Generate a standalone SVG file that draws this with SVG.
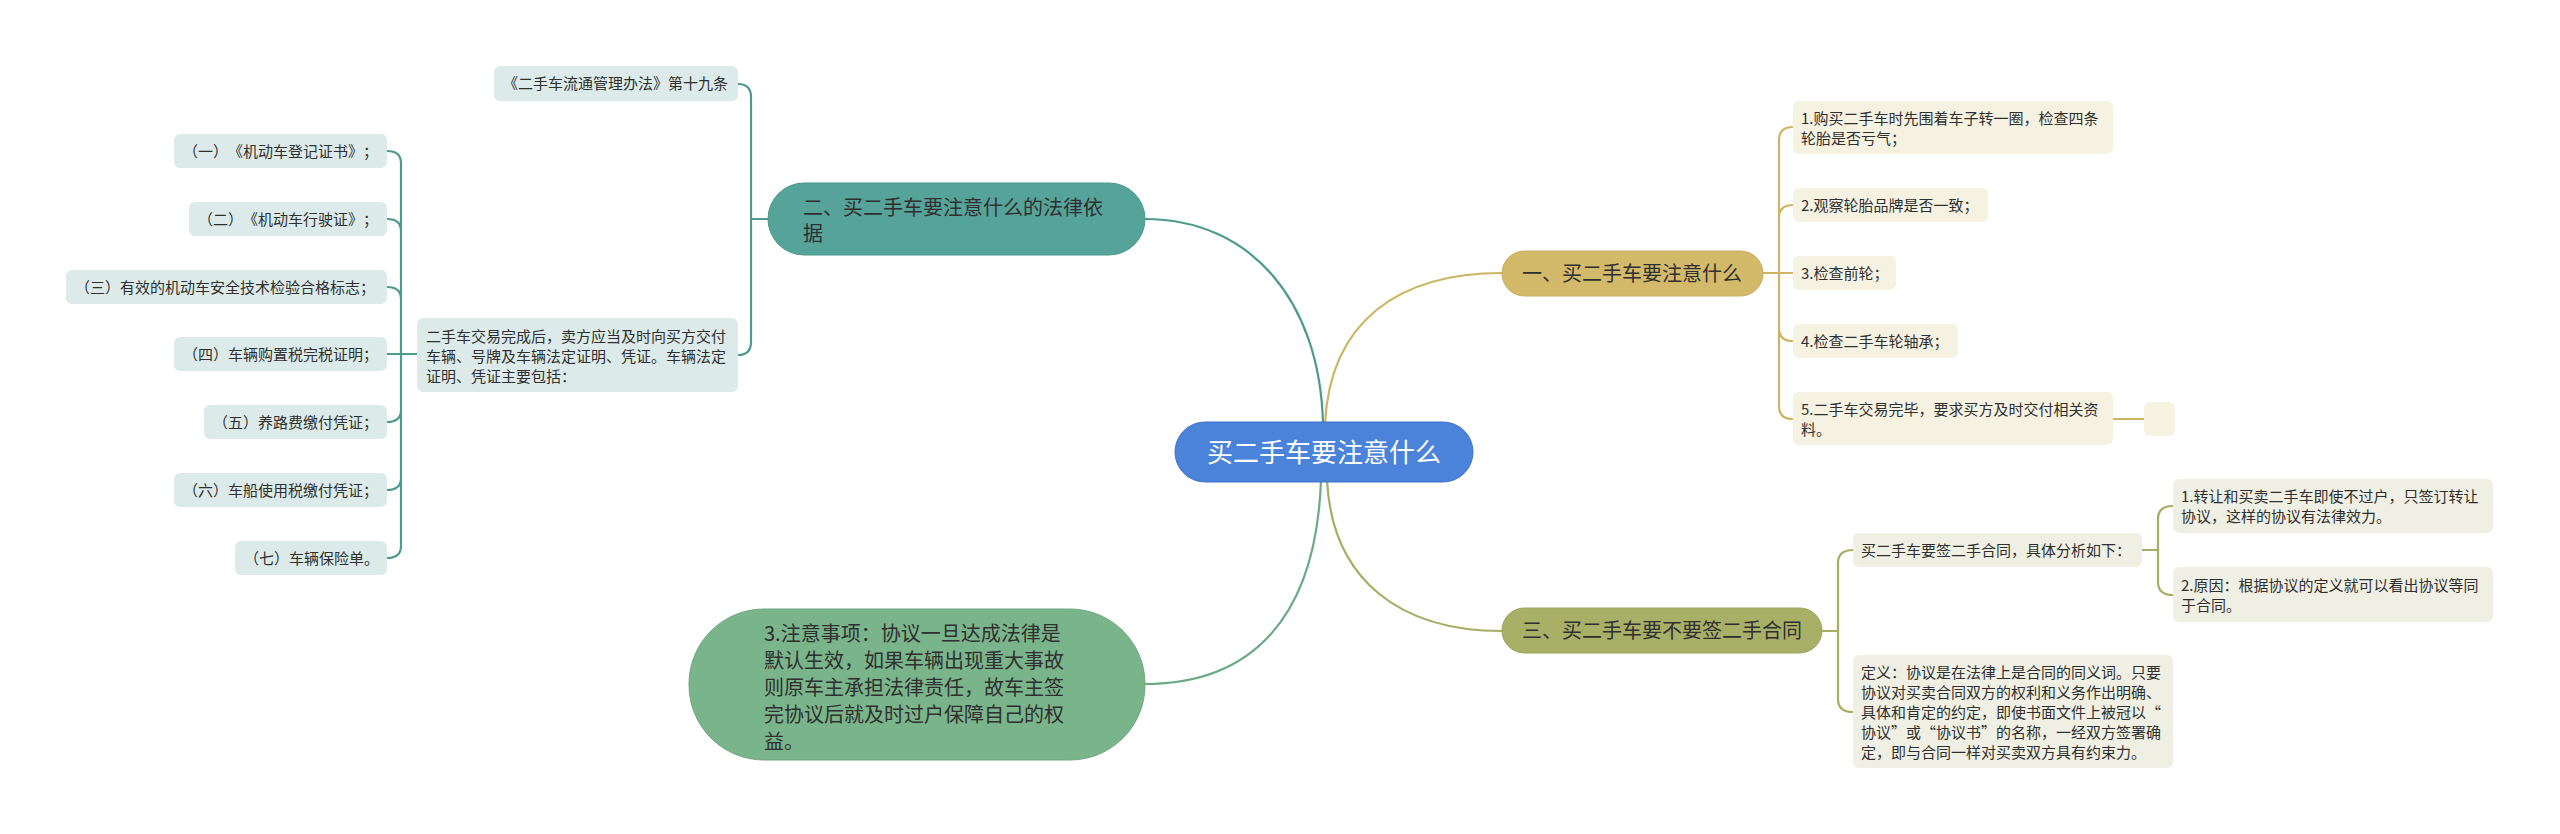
<svg xmlns="http://www.w3.org/2000/svg" width="2560" height="834" viewBox="0 0 2560 834">
<style>
text{font-family:"Noto Sans CJK SC","Noto Sans",sans-serif;fill:#2f2f2f;text-spacing-trim:space-all;font-kerning:none}
.s{font-size:15px}
.m{font-size:20px}
.tl{fill:#DCEBE9}
.gl{fill:#F6F2E2}
.ol{fill:#EFEFE3}
.c{fill:none;stroke-width:2.2;stroke-linecap:round}
.ct{stroke:#4E9A8D}
.cg{stroke:#CDB462}
.co{stroke:#A6AE64}
.cgr{stroke:#6CAA86}
</style>
<rect width="2560" height="834" fill="#ffffff"/>
<g id="connectors">
<path class="c ct" d="M1323 424 C1320 300 1250 219 1145 219"/>
<path class="c cg" d="M1325 424 C1330 320 1400 273 1502 273"/>
<path class="c co" d="M1327 480 C1332 580 1400 631 1502 631"/>
<path class="c cgr" d="M1321 480 C1316 620 1250 684 1145 684"/>
<path class="c ct" d="M768 219 L751 219 M738 84 Q751 84 751 97 L751 342 Q751 355 738 355"/>
<path class="c ct" d="M417 354 L387 354 M387 151 Q401 151 401 163 L401 546 Q401 558 387 558 M387 219 Q401 219 401 231 M387 287 Q401 287 401 299 M387 422 Q401 422 401 410 M387 490 Q401 490 401 478"/>
<path class="c cg" d="M1763 273 L1793 273 M1793 127 Q1779 127 1779 140 L1779 406 Q1779 419 1793 419 M1793 205 Q1779 205 1779 218 M1793 341 Q1779 341 1779 328 M2113 419 L2144 419"/>
<path class="c co" d="M1822 631 L1838 631 M1853 550 Q1838 550 1838 563 L1838 699 Q1838 712 1853 712"/>
<path class="c co" d="M2142 550 L2158 550 M2173 506 Q2158 506 2158 519 L2158 582 Q2158 595 2173 595"/>
</g>
<g id="root">
<rect x="1175" y="422" width="298" height="60" rx="30" fill="#4B82DA" stroke="#3E72C8" stroke-width="1"/>
<text x="1324" y="462" text-anchor="middle" style="font-size:26px;fill:#ffffff">买二手车要注意什么</text>
</g>
<g id="n-legal">
<rect x="768" y="183" width="377" height="72" rx="36" fill="#56A39A" stroke="#4B968C" stroke-width="1"/>
<text class="m" x="803" y="215">二、买二手车要注意什么的法律依</text>
<text class="m" x="803" y="241">据</text>
</g>
<g id="n-law19">
<rect class="tl" x="494" y="66" width="244" height="35" rx="6"/>
<text class="s" x="503" y="89">《二手车流通管理办法》第十九条</text>
</g>
<g id="n-deliver">
<rect class="tl" x="417" y="318" width="321" height="74" rx="6"/>
<text class="s" x="426" y="342">二手车交易完成后，卖方应当及时向买方交付</text>
<text class="s" x="426" y="362">车辆、号牌及车辆法定证明、凭证。车辆法定</text>
<text class="s" x="426" y="382">证明、凭证主要包括：</text>
</g>
<g id="n-l1">
<rect class="tl" x="174" y="134" width="213" height="34" rx="6"/>
<text class="s" x="183" y="157">（一）《机动车登记证书》；</text>
</g>
<g id="n-l2">
<rect class="tl" x="189" y="202" width="198" height="34" rx="6"/>
<text class="s" x="198" y="225">（二）《机动车行驶证》；</text>
</g>
<g id="n-l3">
<rect class="tl" x="66" y="270" width="321" height="34" rx="6"/>
<text class="s" x="75" y="293">（三）有效的机动车安全技术检验合格标志；</text>
</g>
<g id="n-l4">
<rect class="tl" x="174" y="337" width="213" height="34" rx="6"/>
<text class="s" x="183" y="360">（四）车辆购置税完税证明；</text>
</g>
<g id="n-l5">
<rect class="tl" x="204" y="405" width="183" height="34" rx="6"/>
<text class="s" x="213" y="428">（五）养路费缴付凭证；</text>
</g>
<g id="n-l6">
<rect class="tl" x="174" y="473" width="213" height="34" rx="6"/>
<text class="s" x="183" y="496">（六）车船使用税缴付凭证；</text>
</g>
<g id="n-l7">
<rect class="tl" x="235" y="541" width="152" height="34" rx="6"/>
<text class="s" x="244" y="564">（七）车辆保险单。</text>
</g>
<g id="n-what">
<rect x="1502" y="251" width="261" height="45" rx="22.5" fill="#D3BA6A" stroke="#C6AD5C" stroke-width="1"/>
<text class="m" x="1522" y="281">一、买二手车要注意什么</text>
</g>
<g id="n-w1">
<rect class="gl" x="1793" y="101" width="320" height="53" rx="6"/>
<text class="s" x="1801" y="124">1.购买二手车时先围着车子转一圈，检查四条</text>
<text class="s" x="1801" y="144">轮胎是否亏气；</text>
</g>
<g id="n-w2">
<rect class="gl" x="1793" y="188" width="195" height="34" rx="6"/>
<text class="s" x="1801" y="211">2.观察轮胎品牌是否一致；</text>
</g>
<g id="n-w3">
<rect class="gl" x="1793" y="256" width="103" height="34" rx="6"/>
<text class="s" x="1801" y="279">3.检查前轮；</text>
</g>
<g id="n-w4">
<rect class="gl" x="1793" y="324" width="165" height="34" rx="6"/>
<text class="s" x="1801" y="347">4.检查二手车轮轴承；</text>
</g>
<g id="n-w5">
<rect class="gl" x="1793" y="392" width="320" height="53" rx="6"/>
<text class="s" x="1801" y="415">5.二手车交易完毕，要求买方及时交付相关资</text>
<text class="s" x="1801" y="435">料。</text>
</g>
<g id="n-w5a">
<rect class="gl" x="2144" y="402" width="31" height="34" rx="6"/>
</g>
<g id="n-contract">
<rect x="1502" y="608" width="320" height="45" rx="22.5" fill="#A8B068" stroke="#9BA35C" stroke-width="1"/>
<text class="m" x="1522" y="638">三、买二手车要不要签二手合同</text>
</g>
<g id="n-c1">
<rect class="ol" x="1853" y="533" width="289" height="34" rx="6"/>
<text class="s" x="1861" y="556">买二手车要签二手合同，具体分析如下：</text>
</g>
<g id="n-c1a">
<rect class="ol" x="2173" y="479" width="320" height="54" rx="6"/>
<text class="s" x="2181" y="502">1.转让和买卖二手车即使不过户，只签订转让</text>
<text class="s" x="2181" y="522">协议，这样的协议有法律效力。</text>
</g>
<g id="n-c1b">
<rect class="ol" x="2173" y="567" width="320" height="55" rx="6"/>
<text class="s" x="2181" y="591">2.原因：根据协议的定义就可以看出协议等同</text>
<text class="s" x="2181" y="611">于合同。</text>
</g>
<g id="n-c2">
<rect class="ol" x="1853" y="655" width="320" height="113" rx="6"/>
<text class="s" x="1861" y="678">定义：协议是在法律上是合同的同义词。只要</text>
<text class="s" x="1861" y="698">协议对买卖合同双方的权利和义务作出明确、</text>
<text class="s" x="1861" y="718">具体和肯定的约定，即使书面文件上被冠以“</text>
<text class="s" x="1861" y="738">协议”或“协议书”的名称，一经双方签署确</text>
<text class="s" x="1861" y="758">定，即与合同一样对买卖双方具有约束力。</text>
</g>
<g id="n-note">
<rect x="689" y="609" width="456" height="151" rx="75" fill="#7AB48A" stroke="#6EA77E" stroke-width="1"/>
<text class="m" x="764" y="641">3.注意事项：协议一旦达成法律是</text>
<text class="m" x="764" y="668">默认生效，如果车辆出现重大事故</text>
<text class="m" x="764" y="695">则原车主承担法律责任，故车主签</text>
<text class="m" x="764" y="722">完协议后就及时过户保障自己的权</text>
<text class="m" x="764" y="749">益。</text>
</g>
</svg>
